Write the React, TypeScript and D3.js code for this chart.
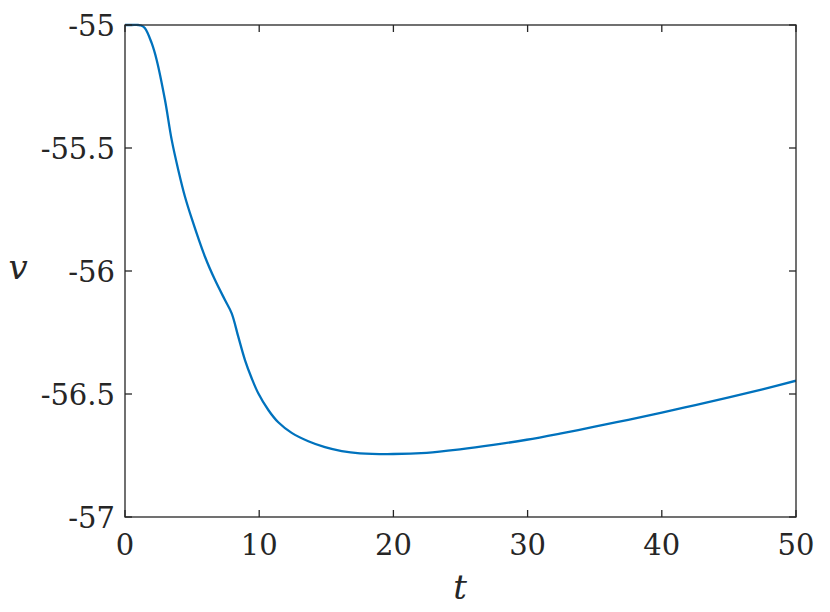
import React from "react";
import * as d3 from "d3";

const tValues = [0, 0.5, 1.0, 1.2, 1.49, 1.99, 2.36, 2.98, 3.48, 3.97, 4.47, 4.97, 5.96, 6.71, 7.45, 7.95, 8.44, 8.94, 9.44, 9.93, 10.68, 11.42, 12.42, 13.66, 14.9, 16.15, 17.51, 19.99, 22.48, 24.96, 27.44, 29.93, 32.41, 35, 37.5, 40, 42.5, 45, 47.5, 50];
const vValues = [-55, -55, -55, -55.002, -55.013, -55.074, -55.142, -55.305, -55.467, -55.589, -55.698, -55.786, -55.942, -56.037, -56.118, -56.172, -56.267, -56.362, -56.436, -56.497, -56.565, -56.615, -56.658, -56.692, -56.716, -56.732, -56.741, -56.744, -56.739, -56.725, -56.707, -56.686, -56.661, -56.633, -56.605, -56.576, -56.545, -56.514, -56.481, -56.446];
const xTicks = [0, 10, 20, 30, 40, 50];
const yTicks = [-57, -56.5, -56, -55.5, -55];

const W = 830, H = 612;
const L = 125, R = 796, T = 25, B = 517;
const axisColor = "#262626";
const font = "'DejaVu Serif', serif";

export default function App() {
  const x = d3.scaleLinear().domain([0, 50]).range([L, R]);
  const y = d3.scaleLinear().domain([-57, -55]).range([B, T]);
  const pts: [number, number][] = tValues.map((t, i) => [t, vValues[i]]);
  const line = d3.line<[number, number]>().x(d => x(d[0])).y(d => y(d[1])).curve(d3.curveCatmullRom.alpha(0.5));
  const tl = 7;
  return (
    <svg width={W} height={H} style={{ position: "absolute", left: 0, top: 0, background: "#fff" }}>
      <rect x={0} y={0} width={W} height={H} fill="#fff" />
      <defs>
        <clipPath id="clip"><rect x={L} y={T - 2} width={R - L} height={B - T + 4} /></clipPath>
      </defs>
      <path d={line(pts) || ""} fill="none" stroke="#0072BD" strokeWidth={2.3} clipPath="url(#clip)" />
      {xTicks.map(t => (
        <g key={"x" + t}>
          <line x1={x(t)} x2={x(t)} y1={B} y2={B - tl} stroke={axisColor} strokeWidth={1.3} />
          <line x1={x(t)} x2={x(t)} y1={T} y2={T + tl} stroke={axisColor} strokeWidth={1.3} />
          <text x={x(t)} y={555} textAnchor="middle" fontFamily={font} fontSize={29} fill={axisColor}>{t}</text>
        </g>
      ))}
      {yTicks.map(v => (
        <g key={"y" + v}>
          <line x1={L} x2={L + tl} y1={y(v)} y2={y(v)} stroke={axisColor} strokeWidth={1.3} />
          <line x1={R} x2={R - tl} y1={y(v)} y2={y(v)} stroke={axisColor} strokeWidth={1.3} />
          <text x={115} y={y(v) + 11} textAnchor="end" fontFamily={font} fontSize={29} fill={axisColor}>{String(v)}</text>
        </g>
      ))}
      <rect x={L} y={T} width={R - L} height={B - T} fill="none" stroke={axisColor} strokeWidth={1.3} />
      <text x={18} y={279} textAnchor="middle" fontFamily={font} fontStyle="italic" fontSize={34} fill={axisColor}>v</text>
      <text x={460} y={599} textAnchor="middle" fontFamily={font} fontStyle="italic" fontSize={34} fill={axisColor}>t</text>
    </svg>
  );
}
